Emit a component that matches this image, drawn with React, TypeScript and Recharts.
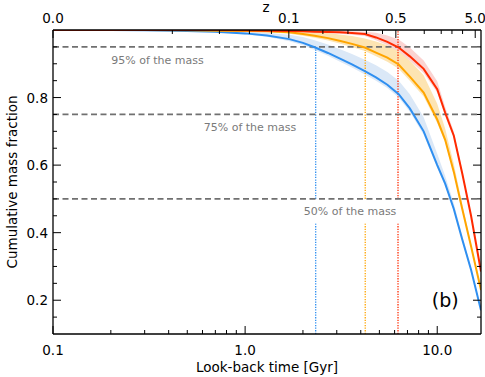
import { ComposedChart, Line, Area, XAxis, YAxis, ReferenceLine, ReferenceDot } from 'recharts'

// look-back time grid [Gyr]
const lookback = [0.1, 0.2, 0.3, 0.5, 0.7, 1.0, 1.3, 1.7, 2.0, 2.3, 2.7, 3.1, 3.6, 4.2, 4.8, 5.5, 6.3, 7.2, 8.5, 10.0, 11.0, 12.2, 13.5, 15.0, 16.9]

const blue = [1.0, 1.0, 0.999, 0.997, 0.995, 0.99, 0.984, 0.973, 0.962, 0.949, 0.932, 0.916, 0.898, 0.878, 0.86, 0.838, 0.81, 0.768, 0.7, 0.6, 0.545, 0.47, 0.38, 0.29, 0.17]
const blueHi = [1.0, 1.0, 0.999, 0.998, 0.997, 0.995, 0.992, 0.986, 0.979, 0.97, 0.957, 0.944, 0.929, 0.912, 0.896, 0.876, 0.85, 0.81, 0.742, 0.634, 0.568, 0.487, 0.391, 0.296, 0.175]
const blueLo = [1.0, 1.0, 0.999, 0.996, 0.993, 0.987, 0.98, 0.967, 0.955, 0.941, 0.924, 0.907, 0.889, 0.868, 0.85, 0.828, 0.8, 0.758, 0.69, 0.592, 0.538, 0.465, 0.375, 0.286, 0.167]

const orange = [1.0, 1.0, 1.0, 0.999, 0.998, 0.997, 0.996, 0.993, 0.988, 0.983, 0.976, 0.968, 0.959, 0.948, 0.933, 0.918, 0.898, 0.862, 0.815, 0.735, 0.675, 0.58, 0.47, 0.36, 0.23]
const orangeHi = [1.0, 1.0, 1.0, 1.0, 0.999, 0.999, 0.998, 0.997, 0.996, 0.994, 0.991, 0.987, 0.982, 0.975, 0.966, 0.955, 0.94, 0.91, 0.866, 0.782, 0.708, 0.604, 0.484, 0.368, 0.235]
const orangeLo = [1.0, 1.0, 1.0, 0.998, 0.997, 0.995, 0.993, 0.989, 0.983, 0.977, 0.969, 0.96, 0.95, 0.938, 0.922, 0.906, 0.885, 0.85, 0.803, 0.725, 0.668, 0.575, 0.466, 0.356, 0.227]

const red = [1.0, 1.0, 1.0, 1.0, 1.0, 0.999, 0.998, 0.997, 0.996, 0.995, 0.994, 0.993, 0.991, 0.988, 0.978, 0.965, 0.948, 0.922, 0.885, 0.825, 0.755, 0.687, 0.575, 0.45, 0.285]
const redHi = [1.0, 1.0, 1.0, 1.0, 1.0, 1.0, 0.999, 0.999, 0.998, 0.998, 0.997, 0.997, 0.996, 0.995, 0.992, 0.984, 0.972, 0.948, 0.91, 0.848, 0.772, 0.699, 0.584, 0.455, 0.288]
const redLo = [1.0, 1.0, 1.0, 1.0, 1.0, 0.998, 0.997, 0.995, 0.994, 0.992, 0.991, 0.989, 0.986, 0.982, 0.97, 0.955, 0.936, 0.91, 0.873, 0.815, 0.745, 0.68, 0.57, 0.446, 0.282]

// 95% mass times (blue, orange, red) and how far up each dotted marker reaches
const crossTimes = [2.33, 4.22, 6.25]
const crossTop = [0.945, 0.94, 1.0]
// the dotted markers break behind the "50%" label
const labelGap = [0.43, 0.5]

const levels = [0.95, 0.75, 0.5]
const levelLabels = ['95% of the mass', '75% of the mass', '50% of the mass']
const levelLabelT = [0.35, 1.06, 3.52]
const levelLabelV = [0.91, 0.713, 0.463]

const bottomTicks = [0.1, 0.2, 0.3, 0.4, 0.5, 0.6, 0.7, 0.8, 0.9, 1, 2, 3, 4, 5, 6, 7, 8, 9, 10]
const bottomMajor = [0.1, 1, 10]
const bottomLabels = ['0.1', '1.0', '10.0']

const leftTicks = [0.15, 0.2, 0.25, 0.3, 0.35, 0.4, 0.45, 0.5, 0.55, 0.6, 0.65, 0.7, 0.75, 0.8, 0.85, 0.9, 0.95]
const leftMajor = [0.2, 0.4, 0.6, 0.8]

// redshift ticks placed at their look-back time
const topTicks = [0.1, 0.418, 0.735, 1.053, 1.371, 1.689, 2.54, 3.43, 4.28, 5.19, 6.09, 8.56, 10.49, 11.93, 13.55, 15.77]
const topMajor = [0.1, 1.689, 6.09, 15.77]
const topLabels = ['0.0', '0.1', '0.5', '5.0']

const COLORS = ['#2f8ff0', '#ffa500', '#ff2a00']
const BANDS = ['#dbe8f7', '#fde4b2', '#fbd3d1']
const FONT = 'DejaVu Sans'

const rows = lookback.map((t, i) => ({
  t,
  blue: blue[i],
  orange: orange[i],
  red: red[i],
  blueBand: [blueLo[i], blueHi[i]],
  orangeBand: [orangeLo[i], orangeHi[i]],
  redBand: [redLo[i], redHi[i]],
}))

const BottomTick = (p: any) => {
  const v = p.payload.value
  const k = bottomMajor.indexOf(v)
  return (
    <g>
      <line x1={p.x} x2={p.x} y1={p.y} y2={p.y - (k >= 0 ? 8 : 4)} stroke="#000" strokeWidth={1} />
      {k >= 0 && <text x={p.x} y={p.y + 21} textAnchor="middle" fontSize={13.5} fill="#000">{bottomLabels[k]}</text>}
    </g>
  )
}

const TopTick = (p: any) => {
  const v = p.payload.value
  const k = topMajor.indexOf(v)
  return (
    <g>
      <line x1={p.x} x2={p.x} y1={p.y} y2={p.y + (k >= 0 ? 8 : 4)} stroke="#000" strokeWidth={1} />
      {k >= 0 && <text x={p.x} y={p.y - 7} textAnchor="middle" fontSize={13.5} fill="#000">{topLabels[k]}</text>}
    </g>
  )
}

const LeftTick = (p: any) => {
  const v = p.payload.value
  const major = leftMajor.includes(v)
  return (
    <g>
      <line x1={p.x} x2={p.x + (major ? 8 : 4)} y1={p.y} y2={p.y} stroke="#000" strokeWidth={1} />
      {major && <text x={p.x - 5} y={p.y + 5} textAnchor="end" fontSize={13.5} fill="#000">{v.toFixed(1)}</text>}
    </g>
  )
}

const RightTick = (p: any) => {
  const major = leftMajor.includes(p.payload.value)
  return <line x1={p.x} x2={p.x - (major ? 8 : 4)} y1={p.y} y2={p.y} stroke="#000" strokeWidth={1} />
}

const boxedLabel = (text: string) => (p: any) => (
  <g>
    <rect x={p.cx - 50} y={p.cy - 11} width={100} height={23} fill="#fff" />
    <text x={p.cx} y={p.cy + 4} textAnchor="middle" fontSize={11} fill="#7a7a7a">{text}</text>
  </g>
)

export default function App() {
  const axisLine = { stroke: '#000', strokeWidth: 1.3 }
  return (
    <div style={{ position: 'absolute', left: 0, top: 0, background: '#fff' }}>
      <ComposedChart width={485} height={377} data={rows} margin={{ top: 0, right: 0, bottom: 0, left: 0 }}
                     style={{ fontFamily: FONT }}>
        <XAxis dataKey="t" type="number" scale="log" domain={[0.1, 16.9]} allowDataOverflow
               ticks={bottomTicks} interval={0} height={43} tickSize={0} tickMargin={0}
               tickLine={false} axisLine={axisLine} tick={<BottomTick />}
               label={{ content: (p: any) => (
                 <text x={p.viewBox.x + p.viewBox.width / 2} y={372} textAnchor="middle" fontSize={13.5} fill="#000">
                   Look-back time [Gyr]
                 </text>
               ) }} />
        <XAxis xAxisId="top" dataKey="t" orientation="top" type="number" scale="log" domain={[0.1, 16.9]} allowDataOverflow
               ticks={topTicks} interval={0} height={30} tickSize={0} tickMargin={0}
               tickLine={false} axisLine={axisLine} tick={<TopTick />}
               label={{ content: () => (
                 <text x={266} y={12} textAnchor="middle" fontSize={13.5} fill="#000">z</text>
               ) }} />
        <YAxis type="number" domain={[0.1, 1.0]} allowDataOverflow ticks={leftTicks} interval={0}
               width={53} tickSize={0} tickMargin={0} tickLine={false} axisLine={axisLine} tick={<LeftTick />}
               label={{ content: () => (
                 <text x={17} y={182} transform="rotate(-90 17 182)" textAnchor="middle" fontSize={13.5} fill="#000">
                   Cumulative mass fraction
                 </text>
               ) }} />
        <YAxis yAxisId="right" orientation="right" type="number" domain={[0.1, 1.0]} allowDataOverflow
               ticks={leftTicks} interval={0} width={4} tickSize={0} tickMargin={0} tickLine={false}
               axisLine={axisLine} tick={<RightTick />} />

        {/* invisible series so the top and right axes get drawn */}
        <Line xAxisId="top" yAxisId="right" dataKey="blue" stroke="none" dot={false} isAnimationActive={false} />

        {crossTimes.map((t, i) => (
          <ReferenceLine key={'vl' + i} segment={[{ x: t, y: 0.1 }, { x: t, y: labelGap[0] }]}
                         stroke={COLORS[i]} strokeWidth={1.3} strokeDasharray="1.3 1.3" />
        ))}
        {crossTimes.map((t, i) => (
          <ReferenceLine key={'vu' + i} segment={[{ x: t, y: labelGap[1] }, { x: t, y: crossTop[i] }]}
                         stroke={COLORS[i]} strokeWidth={1.3} strokeDasharray="1.3 1.3" />
        ))}

        <Area dataKey="blueBand" type="linear" fill={BANDS[0]} fillOpacity={1} stroke="none" isAnimationActive={false} />
        <Area dataKey="orangeBand" type="linear" fill={BANDS[1]} fillOpacity={1} stroke="none" isAnimationActive={false} />
        <Area dataKey="redBand" type="linear" fill={BANDS[2]} fillOpacity={1} stroke="none" isAnimationActive={false} />

        {levels.map((v, i) => (
          <ReferenceLine key={'h' + i} y={v} stroke="#707070" strokeWidth={1.8} strokeDasharray="6 3.5" />
        ))}

        <Line dataKey="blue" type="linear" stroke={COLORS[0]} strokeWidth={2} dot={false} isAnimationActive={false} />
        <Line dataKey="orange" type="linear" stroke={COLORS[1]} strokeWidth={2} dot={false} isAnimationActive={false} />
        <Line dataKey="red" type="linear" stroke={COLORS[2]} strokeWidth={2} dot={false} isAnimationActive={false} />

        {levels.map((_, i) => (
          <ReferenceDot key={'l' + i} x={levelLabelT[i]} y={levelLabelV[i]} r={0} zIndex={1000}
                        shape={boxedLabel(levelLabels[i])} />
        ))}
        <ReferenceDot x={11.0} y={0.2} r={0} zIndex={1000}
                      shape={(p: any) => <text x={p.cx} y={p.cy + 7} textAnchor="middle" fontSize={19} fill="#000">(b)</text>} />
      </ComposedChart>
    </div>
  )
}
